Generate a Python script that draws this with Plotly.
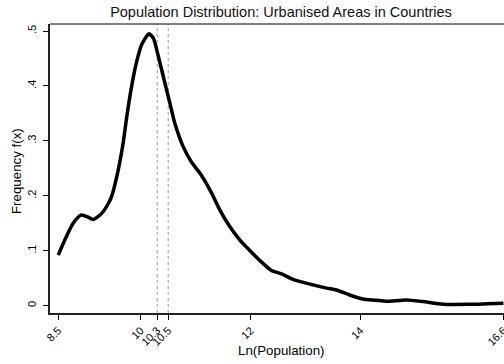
import plotly.graph_objects as go

# Kernel density estimate of log population (urbanised areas)
ln_pop = [8.5, 8.62, 8.77, 8.91, 9.02, 9.14, 9.29, 9.41, 9.47, 9.59, 9.68, 9.74,
          9.83, 9.92, 10.02, 10.15, 10.23, 10.32, 10.44, 10.53, 10.62, 10.77,
          10.92, 11.10, 11.29, 11.44, 11.62, 11.80, 11.98, 12.16, 12.38, 12.56,
          12.77, 13.01, 13.38, 13.56, 13.80, 14.04, 14.28, 14.47, 14.83, 15.13,
          15.50, 15.98, 16.30, 16.6]
density = [0.092, 0.120, 0.150, 0.165, 0.162, 0.157, 0.168, 0.186, 0.199, 0.247,
           0.296, 0.340, 0.397, 0.442, 0.476, 0.495, 0.487, 0.454, 0.405, 0.369,
           0.332, 0.290, 0.262, 0.238, 0.205, 0.174, 0.144, 0.120, 0.101, 0.083,
           0.064, 0.058, 0.048, 0.041, 0.032, 0.0286, 0.0195, 0.0122, 0.0100,
           0.0080, 0.0104, 0.0075, 0.0028, 0.0026, 0.0035, 0.0044]

# Reference lines
ref_lines = [10.3, 10.5]

x_ticks = [8.5, 10, 10.3, 10.5, 12, 14, 16.6]
x_tick_labels = ["8.5", "10", "10.3", "10.5", "12", "14", "16.6"]
y_ticks = [0, 0.1, 0.2, 0.3, 0.4, 0.5]
y_tick_labels = ["0", ".1", ".2", ".3", ".4", ".5"]

FONT = "Liberation Sans, Arial, sans-serif"

fig = go.Figure()
fig.add_trace(go.Scatter(
    x=ln_pop, y=density, mode="lines",
    line=dict(color="black", width=3.5, shape="spline", smoothing=0.6),
    hoverinfo="skip", showlegend=False,
))

for v in ref_lines:
    fig.add_shape(type="line", xref="x", yref="paper", x0=v, x1=v, y0=0, y1=1,
                  line=dict(color="#999999", width=1, dash="3px,3px"), layer="below")

# Top border of the plot region
fig.add_shape(type="line", xref="paper", yref="paper", x0=0, x1=1, y0=1, y1=1,
              line=dict(color="black", width=1))

fig.update_layout(
    width=504, height=364,
    margin=dict(l=50, r=0, t=24, b=51),
    paper_bgcolor="white", plot_bgcolor="white",
    font=dict(family=FONT, color="black"),
    title=dict(text="Population Distribution: Urbanised Areas in Countries",
               x=281 / 504, xref="container", xanchor="center",
               y=1 - 12 / 364, yref="container", yanchor="middle",
               font=dict(size=14.5, family=FONT, color="#111111")),
    xaxis=dict(range=[8.349, 16.61], tickvals=x_ticks, ticktext=x_tick_labels,
               tickangle=-45, ticks="outside", ticklen=5, tickwidth=1, tickcolor="black",
               showline=True, linecolor="#222222", linewidth=1.5, showgrid=False,
               zeroline=False, tickfont=dict(size=11), automargin=False,
               ticklabeloverflow="allow"),
    yaxis=dict(range=[-0.0133, 0.5128], tickvals=y_ticks, ticktext=y_tick_labels,
               tickangle=-90, ticks="outside", ticklen=5, tickwidth=1, tickcolor="black",
               showline=True, linecolor="#222222", linewidth=1.5, showgrid=False,
               zeroline=False, tickfont=dict(size=11), automargin=False,
               ticklabelstandoff=3),
    annotations=[
        dict(text="Ln(Population)", xref="paper", yref="paper",
             x=(281 - 50) / 454, y=(313 - 350) / 289, xanchor="center", yanchor="middle",
             showarrow=False, font=dict(size=13.3)),
        dict(text="Frequency f(x)", xref="paper", yref="paper",
             x=(16 - 50) / 454, y=(313 - 171) / 289, xanchor="center", yanchor="middle",
             textangle=-90, showarrow=False, font=dict(size=13.3)),
    ],
)

fig.write_html("out.html")
